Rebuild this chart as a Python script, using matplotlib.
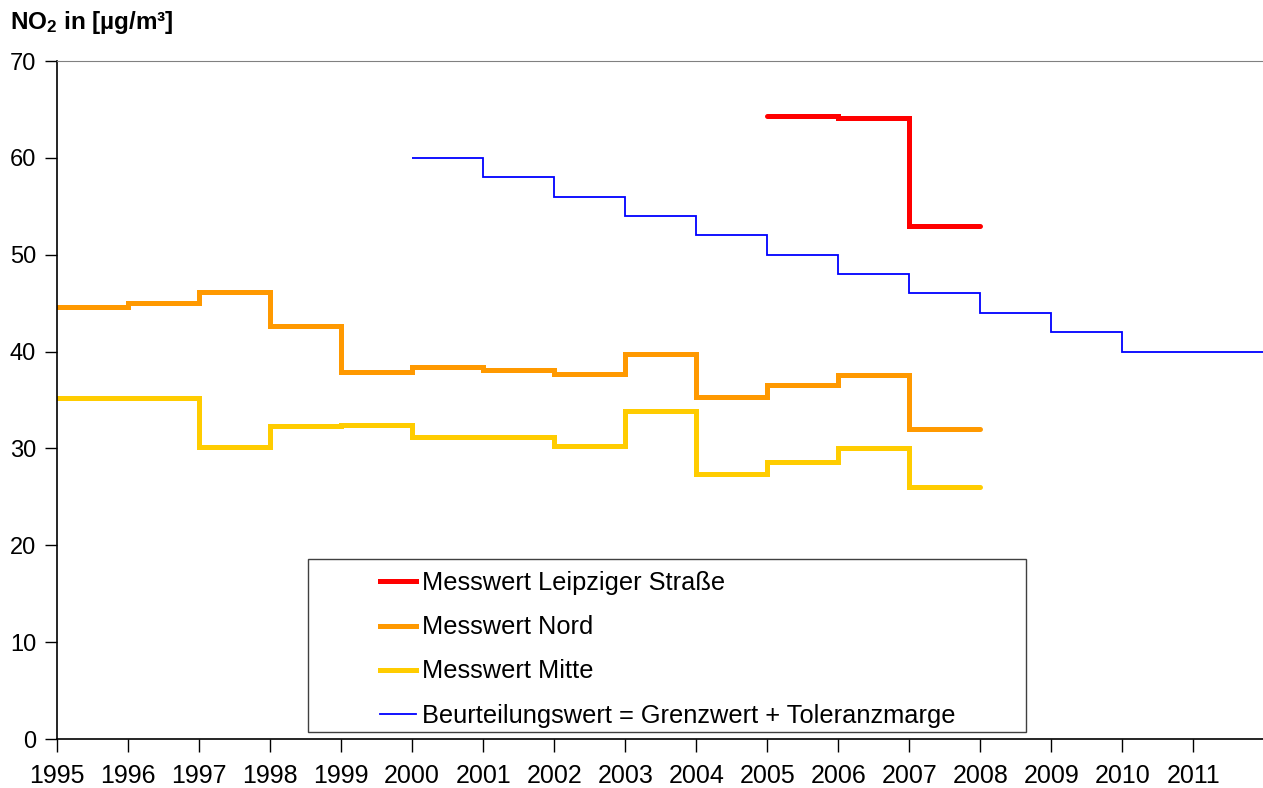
import matplotlib
matplotlib.use("Agg")
import matplotlib.pyplot as plt
from matplotlib.patches import Rectangle
from matplotlib.lines import Line2D

plt.rcParams['font.family'] = ['Liberation Sans', 'DejaVu Sans']
plt.rcParams['mathtext.fontset'] = 'custom'
plt.rcParams['mathtext.rm'] = 'Liberation Sans'
plt.rcParams['mathtext.bf'] = 'Liberation Sans:bold'

years_leipziger = [2005, 2006, 2007, 2008]
leipziger = [64.3, 64.1, 53.0]

years_nord = [1995, 1996, 1997, 1998, 1999, 2000, 2001, 2002, 2003, 2004, 2005, 2006, 2007, 2008]
nord = [44.6, 45.0, 46.2, 42.6, 37.9, 38.4, 38.1, 37.7, 39.7, 35.3, 36.5, 37.6, 32.0]

years_mitte = [1995, 1996, 1997, 1998, 1999, 2000, 2001, 2002, 2003, 2004, 2005, 2006, 2007, 2008]
mitte = [35.2, 35.2, 30.1, 32.3, 32.4, 31.2, 31.2, 30.3, 33.9, 27.4, 28.6, 30.0, 26.0]

years_beurteilung = [2000, 2001, 2002, 2003, 2004, 2005, 2006, 2007, 2008, 2009, 2010, 2011, 2012]
beurteilung = [60, 58, 56, 54, 52, 50, 48, 46, 44, 42, 40, 40]

labels = ["Messwert Leipziger Straße", "Messwert Nord", "Messwert Mitte",
          "Beurteilungswert = Grenzwert + Toleranzmarge"]
colors = ["#FF0000", "#FF9900", "#FFCC00", "#0000FF"]
widths = [3.6, 3.6, 3.6, 1.3]

x_ticks = list(range(1995, 2012))
y_ticks = list(range(0, 71, 10))

W, H = 1263, 788
fig = plt.figure(figsize=(W / 100, H / 100), dpi=100)
ax = fig.add_axes([57 / W, 1 - 739 / H, (1263 - 57) / W, (739 - 61) / H])

series = [(years_leipziger, leipziger), (years_nord, nord),
          (years_mitte, mitte), (years_beurteilung, beurteilung)]
for (edges, vals), c, lw in zip(series, colors, widths):
    sp = ax.stairs(vals, edges, baseline=None, color=c, linewidth=lw)
    sp.set_joinstyle('miter')
    sp.set_capstyle('round' if lw > 2 else 'butt')

ax.set_xlim(1995, 2011.98)
ax.set_ylim(0, 70)
ax.set_xticks(x_ticks)
ax.set_xticklabels([str(y) for y in x_ticks])
ax.set_yticks(y_ticks)
ax.tick_params(axis='both', direction='out', length=9, width=1, color='black')
ax.tick_params(axis='x', pad=9, labelsize=18)
ax.tick_params(axis='y', pad=6, labelsize=17)
ax.spines['right'].set_visible(False)
ax.spines['top'].set_color('#808080')
ax.spines['left'].set_linewidth(1.2)
ax.spines['bottom'].set_linewidth(1.2)

fig.text(10 / W, 1 - 22 / H, r"$\mathbf{NO_2}$ in [µg/m³]", fontsize=17.5, fontweight='bold',
         va='center', ha='left')

# legend frame
fig.patches.append(Rectangle((308 / W, 1 - 732 / H), (1026 - 308) / W, (732 - 559) / H,
                             transform=fig.transFigure, facecolor='white',
                             edgecolor='#404040', linewidth=1.0, zorder=5))
handles = [Line2D([], [], color=c, linewidth=lw) for c, lw in zip(colors, widths)]
leg = fig.legend(handles, labels, loc='upper left', bbox_to_anchor=(360 / W, 1 - 551 / H),
                 frameon=False, fontsize=18.3, handlelength=1.42, handletextpad=0.2,
                 labelspacing=0.79, borderpad=0.3)
leg.set_zorder(6)

fig.savefig("out.png", dpi=100)
